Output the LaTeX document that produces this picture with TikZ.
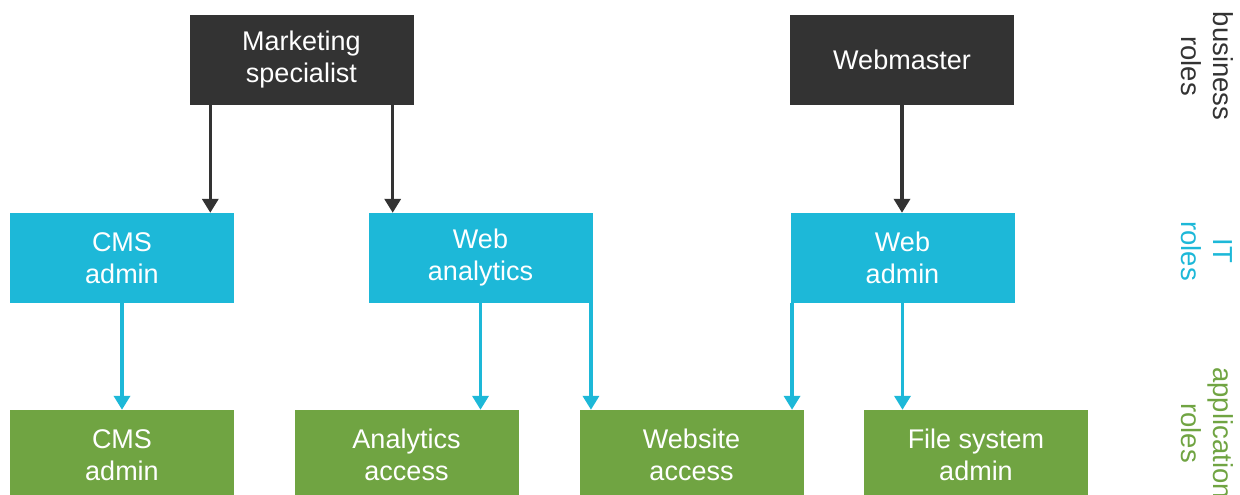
\documentclass[tikz,border=0pt]{standalone}
\usepackage{fontspec}
\setmainfont{Liberation Sans}
\usetikzlibrary{arrows.meta}
\definecolor{darkbox}{HTML}{333333}
\definecolor{cyanbox}{HTML}{1DB8D8}
\definecolor{greenbox}{HTML}{70A442}
\tikzset{
  rolebox/.style={minimum width=224pt, minimum height=90pt, inner sep=0pt, align=center,
    text=white, font=\fontsize{27pt}{32pt}\selectfont},
  bizbox/.style={rolebox, fill=darkbox},
  itbox/.style={rolebox, fill=cyanbox},
  appbox/.style={rolebox, fill=greenbox},
  sidelabel/.style={rotate=-90, align=center, inner sep=0pt, font=\fontsize{27.5pt}{32pt}\selectfont},
  bizarrow/.style={draw=darkbox, line width=3.5pt, -{Triangle[width=16pt,length=14pt]}},
  itarrow/.style={draw=cyanbox, line width=3.5pt, -{Triangle[width=16pt,length=14pt]}}
}
\begin{document}
\begin{tikzpicture}[x=1pt,y=-1pt]
\useasboundingbox (0,0) rectangle (1240,495);
\clip (0,0) rectangle (1240,495);
% business roles
\node[bizbox] (ms) at (301.5,60) {Marketing\\specialist};
\node[bizbox] (wm) at (902,60) {Webmaster};
% IT roles
\node[itbox] (cmsit) at (122,258) {CMS\\admin};
\node[itbox] (wan) at (480.5,258) {Web\\analytics};
\node[itbox] (wad) at (902.5,258) {Web\\admin};
% application roles
\node[appbox] (cmsapp) at (122,455) {CMS\\admin};
\node[appbox] (aa) at (406.5,455) {Analytics\\access};
\node[appbox] (wsa) at (691.5,455) {Website\\access};
\node[appbox] (fsa) at (976,455) {File system\\admin};
% side labels
\node[sidelabel, text=darkbox] (lbiz) at (1207,66) {business\\roles};
\node[sidelabel, text=cyanbox] (lit) at (1207,251) {IT\\roles};
\node[sidelabel, text=greenbox] (lapp) at (1207,433) {application\\roles};
% business arrows
\draw[bizarrow] ([xshift=21pt]ms.south west) -- ([xshift=21pt]ms.south west |- cmsit.north);
\draw[bizarrow] ([xshift=-21pt]ms.south east) -- ([xshift=-21pt]ms.south east |- wan.north);
\draw[bizarrow] (wm.south) -- (wm.south |- wad.north);
% IT arrows
\draw[itarrow] (cmsit.south) -- (cmsit.south |- cmsapp.north);
\draw[itarrow] (wan.south) -- (wan.south |- aa.north);
\draw[itarrow] ([xshift=-1.75pt]wan.south east) -- ([xshift=-1.75pt]wan.south east |- wsa.north);
\draw[itarrow] ([xshift=1.75pt]wad.south west) -- ([xshift=1.75pt]wad.south west |- wsa.north);
\draw[itarrow] (wad.south) -- (wad.south |- fsa.north);
\end{tikzpicture}
\end{document}
